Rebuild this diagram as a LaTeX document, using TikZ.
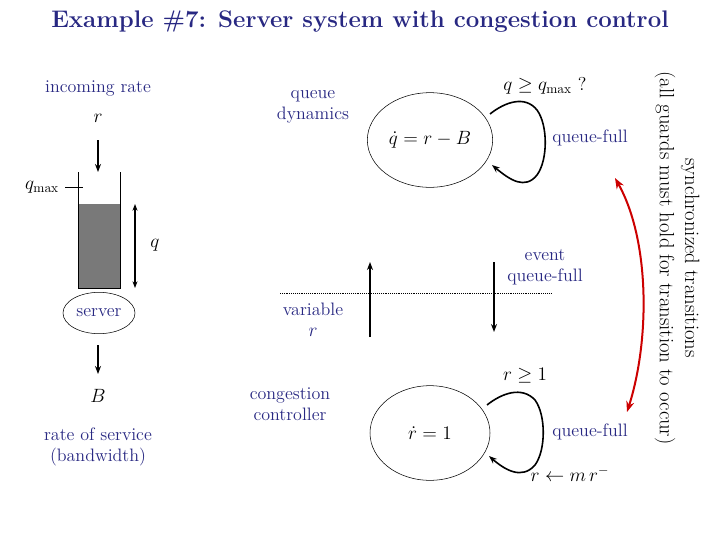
\documentclass[tikz,border=0pt]{standalone}
\usepackage{amsmath}
\usetikzlibrary{arrows.meta,shapes.geometric}
\begin{document}
\begin{tikzpicture}[x=0.75pt,y=-0.75pt,
  nv/.style={text=navy,font=\fontsize{13.5}{16}\selectfont,align=center},
  mt/.style={font=\fontsize{14}{16}\selectfont},
  arr/.style={-{Stealth[length=6pt]},line width=1.2pt},
  loop/.style={line width=1.2pt}]
\definecolor{navy}{RGB}{40,40,130}
\useasboundingbox (0,0) rectangle (720,540);
\node[font=\bfseries\fontsize{18}{21}\selectfont,text=navy] (title) at (360,22) {Example \#7: Server system with congestion control};
\node[nv] (inr) at (98,88) {incoming rate};
\node[mt] (r1) at (98,118) {$r$};
\coordinate (a1) at (98,140); \coordinate (a2) at (98,172);
\draw[arr] (a1) -- (a2);
\fill[gray!95!black] (78,204) rectangle (120,288);
\draw (78,172) -- (78,288) -- (120,288) -- (120,172);
\node[mt] (qmax) at (42,187) {$q_{\max}$};
\coordinate (t1) at (65,187); \coordinate (t2) at (83,187);
\draw (t1) -- (t2);
\coordinate (q1) at (135,204); \coordinate (q2) at (135,288);
\draw[{Stealth[length=5pt]}-{Stealth[length=5pt]},line width=1.2pt] (q1) -- (q2);
\node[mt] (q) at (155,245) {$q$};
\node[draw,ellipse,minimum width=54pt,minimum height=31pt,nv,inner sep=0pt] (server) at (99,313) {server};
\coordinate (b1) at (98,345); \coordinate (b2) at (98,374);
\draw[arr] (b1) -- (b2);
\node[mt] (B) at (98,396) {$B$};
\node[nv] (ros) at (98,447) {rate of service\\(bandwidth)};
\node[nv] (qd) at (313,107) {queue\\dynamics};
\node[draw,ellipse,minimum width=94pt,minimum height=71pt,mt,inner sep=0pt] (top) at (430,140) {$\dot q = r - B$};
\node[mt] (guard) at (545,86) {$q \ge q_{\max}$ ?};
\node[nv] (qf1) at (590,138) {queue-full};
\coordinate (l1) at (490,114); \coordinate (l2) at (492,165);
\draw[loop,-{Stealth[length=6pt]}] (l1) .. controls (505,102) and (525,95) .. (537,110) .. controls (548,125) and (548,160) .. (537,175) .. controls (525,190) and (510,180) .. (l2);
\node[draw,ellipse,minimum width=90pt,minimum height=71pt,mt,inner sep=0pt] (bot) at (430,433) {$\dot r = 1$};
\coordinate (m1) at (487,405); \coordinate (m2) at (489,456);
\draw[loop,-{Stealth[length=6pt]}] (m1) .. controls (502,393) and (522,386) .. (535,400) .. controls (546,415) and (546,450) .. (535,465) .. controls (522,480) and (505,470) .. (m2);
\node[nv] (qf2) at (590,432) {queue-full};
\node[mt] (g2) at (525,376) {$r \geq 1$};
\node[mt] (rs) at (570,474) {$r \leftarrow m\,r^{-}$};
\coordinate (u1) at (370,337); \coordinate (u2) at (370,262);
\draw[arr] (u1) -- (u2);
\coordinate (d1) at (494,262); \coordinate (d2) at (494,332);
\draw[arr] (d1) -- (d2);
\coordinate (h1) at (280,293); \coordinate (h2) at (552,293);
\draw[densely dotted] (h1) -- (h2);
\node[nv] (ev) at (545,267) {event\\queue-full};
\node[nv] (vr) at (313,320) {variable\\$r$};
\node[nv] (cc) at (290,404) {congestion\\controller};
\coordinate (s1) at (615,178); \coordinate (s2) at (627,412);
\draw[red!80!black,line width=1.5pt,{Stealth[length=8pt]}-{Stealth[length=8pt]}] (s1) .. controls (650,240) and (650,340) .. (s2);
\node[rotate=-90,font=\fontsize{15.5}{19}\selectfont,align=center] (sync) at (677,258) {synchronized transitions\\(all guards must hold for transition to occur)};
\end{tikzpicture}
\end{document}
